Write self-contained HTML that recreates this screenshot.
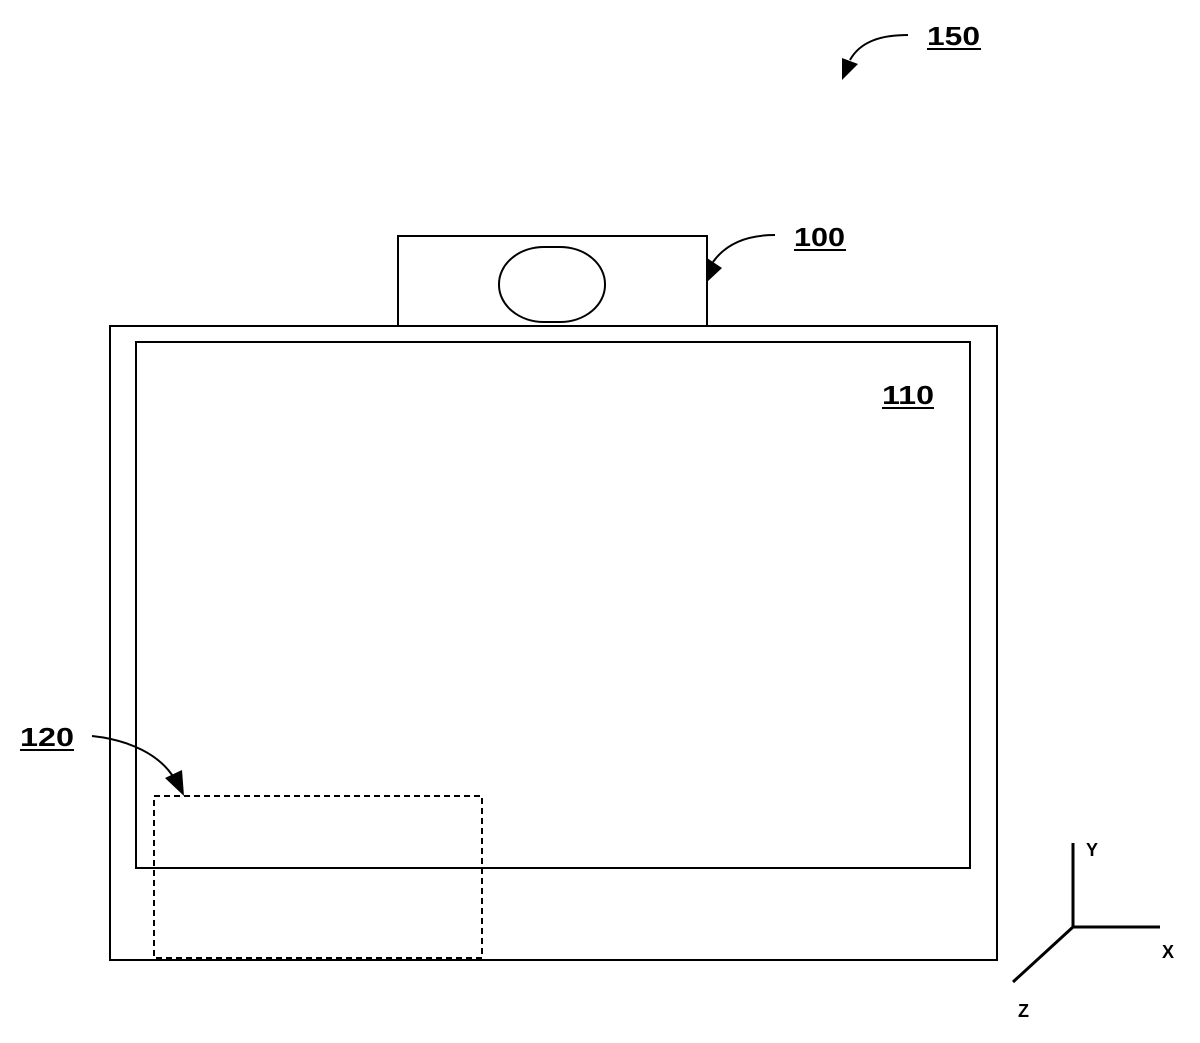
<!DOCTYPE html>
<html><head><style>body{margin:0;background:#fff}</style></head><body>
<svg width="1200" height="1038" xmlns="http://www.w3.org/2000/svg" font-family="Liberation Sans, sans-serif" font-weight="bold">
<g fill="none" stroke="#000" stroke-width="2">
<rect x="110" y="326" width="887" height="634"/>
<rect x="136" y="342" width="834" height="526"/>
<rect x="398" y="236" width="309" height="90"/>
<rect x="499" y="247" width="106" height="75" rx="45" ry="37"/>
<rect x="154" y="796" width="328" height="162" stroke-dasharray="6,4"/>
<path d="M1073,927 V843 M1073,927 H1160 M1073,927 L1013,982" stroke-width="3"/>
<path d="M908,35 C880,35 860,42 850,60"/>
<path d="M775,235 C745,235 725,245 713,262"/>
<path d="M92,736 C130,740 160,755 174,778"/>
</g>
<g fill="#000">
<polygon points="842,80 842,58 858,64"/>
<polygon points="707,282 707,258 722,268"/>
<polygon points="184,796 165,778 182,770"/>
</g>
<g font-size="26">
<text x="927" y="45" textLength="53" lengthAdjust="spacingAndGlyphs">150</text><rect x="927" y="48" width="54" height="2"/>
<text x="794" y="246" textLength="51" lengthAdjust="spacingAndGlyphs">100</text><rect x="794" y="249" width="52" height="2"/>
<text x="882" y="404" textLength="52" lengthAdjust="spacingAndGlyphs">110</text><rect x="882" y="407" width="52" height="2"/>
<text x="20" y="746" textLength="54" lengthAdjust="spacingAndGlyphs">120</text><rect x="20" y="749" width="54" height="2"/>
<text x="1086" y="856" font-size="18">Y</text>
<text x="1162" y="958" font-size="18">X</text>
<text x="1018" y="1017" font-size="18">Z</text>
</g>
</svg>
</body></html>
